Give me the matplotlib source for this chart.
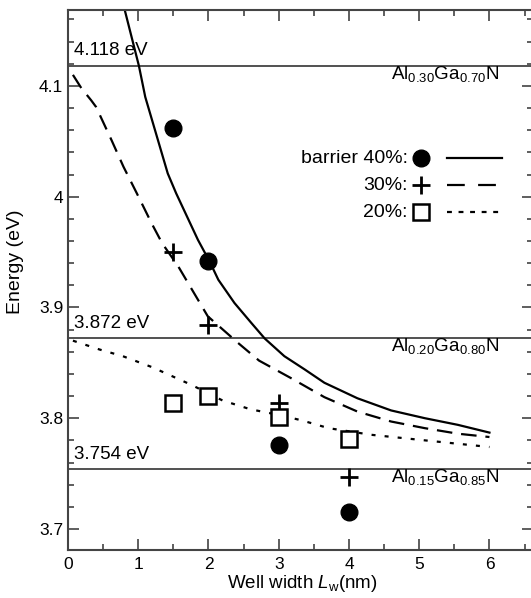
import numpy as np
import matplotlib
matplotlib.use("Agg")
import matplotlib.pyplot as plt
from matplotlib.ticker import MultipleLocator, FormatStrFormatter

plt.rcParams['font.family'] = ['Liberation Sans', 'DejaVu Sans']
plt.rcParams['mathtext.fontset'] = 'custom'
plt.rcParams['mathtext.rm'] = 'Liberation Sans'
plt.rcParams['mathtext.it'] = 'Liberation Sans:italic'
plt.rcParams['mathtext.default'] = 'regular'

# measured points (well width in nm, energy in eV)
well_w = [1.5, 2, 3, 4]
meas_40 = [4.062, 3.942, 3.776, 3.715]
meas_30 = [3.950, 3.884, 3.814, 3.747]
meas_20 = [3.814, 3.820, 3.801, 3.781]

# calculated curves
calc40_x = [0.81, 1.01, 1.10, 1.42, 1.54, 1.85, 2.02, 2.14, 2.37, 2.61, 2.80, 3.08, 3.37, 3.65, 4.12, 4.60, 5.08, 5.55, 6.0]
calc40_y = [4.168, 4.118, 4.090, 4.021, 4.003, 3.961, 3.941, 3.925, 3.904, 3.886, 3.872, 3.856, 3.844, 3.832, 3.818, 3.807, 3.800, 3.794, 3.787]
calc30_x = [0.07, 0.19, 0.33, 0.40, 0.62, 0.79, 0.98, 1.19, 1.34, 1.57, 1.85, 1.99, 2.42, 2.72, 3.18, 3.65, 4.12, 4.60, 5.08, 5.55, 6.0]
calc30_y = [4.110, 4.098, 4.087, 4.081, 4.051, 4.027, 4.003, 3.976, 3.958, 3.937, 3.907, 3.892, 3.868, 3.852, 3.836, 3.819, 3.806, 3.797, 3.791, 3.786, 3.783]
calc20_x = [0.07, 0.45, 0.78, 1.2, 1.76, 2.2, 2.6, 3.0, 3.33, 3.71, 4.32, 5.08, 6.0]
calc20_y = [3.870, 3.862, 3.856, 3.846, 3.830, 3.816, 3.808, 3.803, 3.798, 3.791, 3.785, 3.780, 3.774]

# barrier band edges
barrier_E = [4.118, 3.872, 3.754]
barrier_lbl = ['4.118 eV', '3.872 eV', '3.754 eV']
barrier_name = ['Al$_{0.30}$Ga$_{0.70}$N', 'Al$_{0.20}$Ga$_{0.80}$N', 'Al$_{0.15}$Ga$_{0.85}$N']

legend_lbl = ['barrier 40%:', '30%:', '20%:']

fig = plt.figure(figsize=(5.31, 5.98), dpi=100)
ax = fig.add_axes([68/531, 48/598, 465/531, 540.5/598])

# horizontal barrier lines + labels
for E, lbl, name in zip(barrier_E, barrier_lbl, barrier_name):
    ax.axhline(E, color='#222222', lw=1.1, zorder=1)
    ax.text(0.08, E + 0.006, lbl, fontsize=13.5, ha='left', va='bottom')
    ax.text(6.14, E + 0.002, name, fontsize=13.5, ha='right', va='top')

dash = (0, (7, 4))
dots = (0, (1.8, 4.1))
ax.plot(calc40_x, calc40_y, color='black', lw=1.6, ls='-')
ax.plot(calc30_x, calc30_y, color='black', lw=1.6, ls=dash)
ax.plot(calc20_x, calc20_y, color='black', lw=1.6, ls=dots)

ax.plot(well_w, meas_40, 'o', color='black', ms=12, zorder=3)
ax.plot(well_w, meas_30, '+', color='black', ms=13, mew=2, zorder=3)
ax.plot(well_w, meas_20, 's', mfc='white', mec='black', ms=11, mew=1.8, zorder=3)

# hand-made legend (label, marker, line sample)
styles = [dict(marker='o', ms=12, mfc='black', mec='black', mew=1),
          dict(marker='+', ms=13, mfc='black', mec='black', mew=2),
          dict(marker='s', ms=11, mfc='white', mec='black', mew=1.8)]
line_styles = ['-', (0, (8, 6)), (0, (2.2, 3.0))]
rows = [0.725, 0.675, 0.625]
for lbl, st, ls, ry in zip(legend_lbl, styles, line_styles, rows):
    ax.text(0.731, ry, lbl, transform=ax.transAxes, fontsize=14, ha='right', va='center')
    ax.plot([0.759], [ry], transform=ax.transAxes, ls='none', **st)
    ax.plot([0.815, 0.933], [ry, ry], transform=ax.transAxes, color='black', lw=1.6, ls=ls)

ax.set_xlim(0, 6.62)
ax.set_ylim(3.681, 4.169)
ax.xaxis.set_major_locator(MultipleLocator(1))
ax.xaxis.set_minor_locator(MultipleLocator(0.5))
ax.yaxis.set_major_locator(MultipleLocator(0.1))
ax.yaxis.set_minor_locator(MultipleLocator(0.02))
ax.yaxis.set_major_formatter(FormatStrFormatter('%g'))
ax.tick_params(which='both', direction='in', top=True, right=True, labelsize=12.5,
               color='#333333', width=1.1)
ax.tick_params(which='major', length=8)
ax.tick_params(axis='x', which='major', pad=5)
ax.tick_params(which='minor', length=4)
for sp in ax.spines.values():
    sp.set_linewidth(1.5)
    sp.set_color('#444444')

ax.set_xlabel('Well width $\\mathit{L}_{w}$(nm)', fontsize=13.5)
ax.set_ylabel('Energy (eV)', fontsize=14)
ax.xaxis.set_label_coords(0.503, -0.042)
ax.yaxis.set_label_coords(-0.094, 0.533)

fig.savefig('out.png', dpi=100)
